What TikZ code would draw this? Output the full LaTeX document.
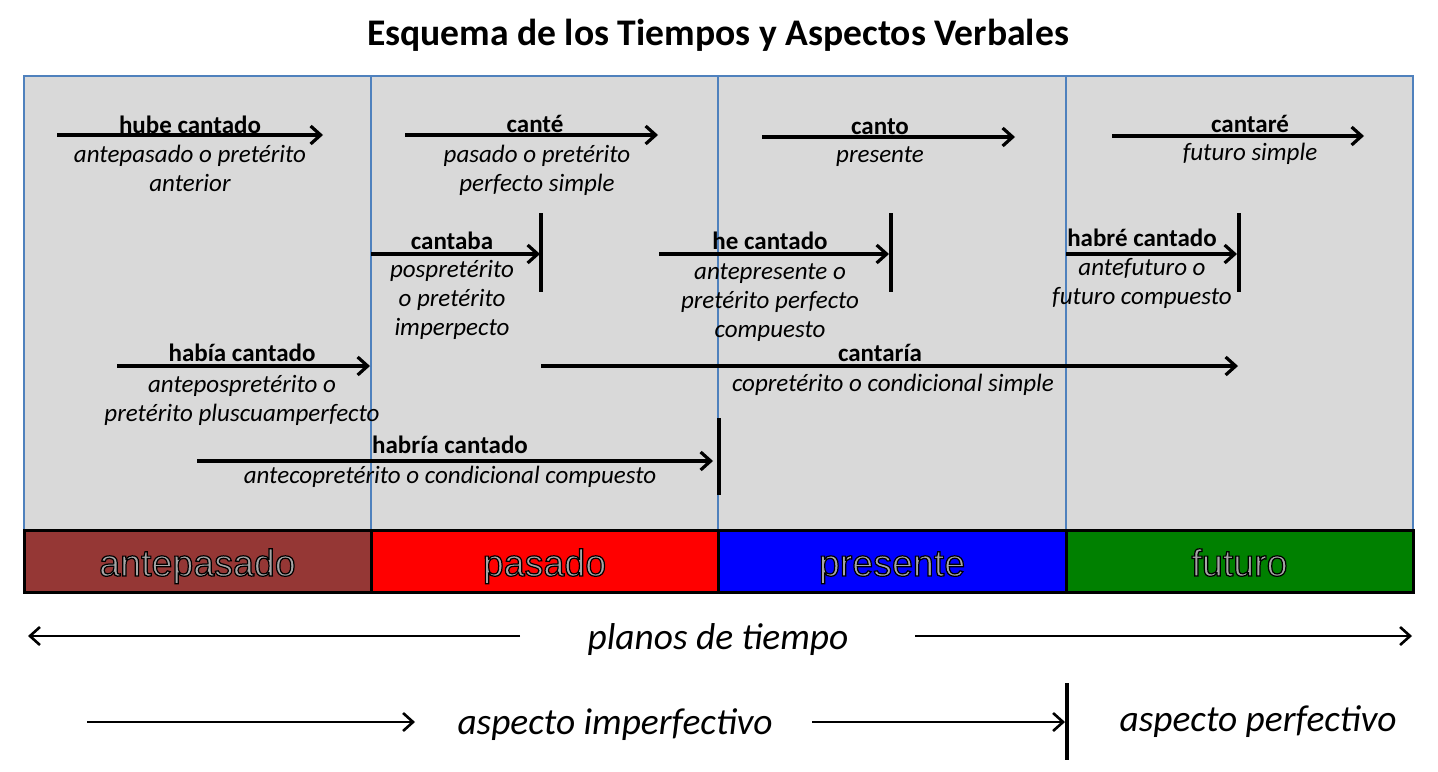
\documentclass[tikz,border=0pt]{standalone}
\usepackage{fontspec}
\setmainfont{Carlito}
\newfontfamily\barfont{Liberation Sans}
\usetikzlibrary{arrows.meta,positioning}
\definecolor{panelGray}{HTML}{D9D9D9}
\definecolor{panelLine}{HTML}{4F81BD}
\definecolor{antepasadoC}{HTML}{953735}
\definecolor{pasadoC}{HTML}{FF0000}
\definecolor{presenteC}{HTML}{0000FF}
\definecolor{futuroC}{HTML}{008000}
\newcommand{\outlined}[1]{\special{pdf:literal direct 2 Tr 0.6 w 0 G}#1\special{pdf:literal direct 0 Tr 0.4 w}}

\begin{document}
\begin{tikzpicture}[x=0.5pt, y=-0.5pt,
  tensearrow/.style={line width=1.6pt, -{Straight Barb[length=5pt,width=9pt]}},
  axisarrow/.style={line width=1.3pt, -{Straight Barb[length=5pt,width=9pt]}},
  limitbar/.style={line width=1.6pt},
  tensename/.style={anchor=base, inner sep=0pt, font=\fontsize{12.5}{14}\selectfont\bfseries},
  tensedesc/.style={anchor=north, inner sep=0pt, align=center, font=\fontsize{12.5}{14.5}\selectfont\itshape},
  planebox/.style={draw=black, line width=1.5pt},
  planelabel/.style={anchor=base, inner sep=0pt, text=black!35, font=\barfont\fontsize{18.8}{22}\selectfont},
  axislabel/.style={anchor=base, inner sep=0pt, font=\fontsize{18.7}{22}\selectfont\itshape}
]
  \useasboundingbox[fill=white] (0,0) rectangle (1438,771);

  % title
  \node[anchor=base, font=\fontsize{18.8}{22}\selectfont\bfseries] (title) at (718,45)
    {Esquema de los Tiempos y Aspectos Verbales};

  % panel
  \fill[panelGray] (24,76) rectangle (1413,530);
  \draw[panelLine, line width=0.6pt] (24,76) rectangle (1413,530);
  \foreach \x in {371,718,1066}
    \draw[panelLine, line width=0.6pt] (\x,76) -- (\x,530);

  % planes bar
  \draw[planebox, fill=antepasadoC] (24,530) rectangle (371,592);
  \draw[planebox, fill=pasadoC] (371,530) rectangle (718,592);
  \draw[planebox, fill=presenteC] (718,530) rectangle (1066,592);
  \draw[planebox, fill=futuroC] (1066,530) rectangle (1413,592);
  \node[planelabel] (antepasado) at (197.5,576) {\outlined{antepasado}};
  \node[planelabel] (pasado) at (544.5,576) {\outlined{pasado}};
  \node[planelabel] (presente) at (892,576) {\outlined{presente}};
  \node[planelabel] (futuro) at (1239.5,576) {\outlined{futuro}};

  % hube cantado
  \coordinate (hube-a) at (57,135);
  \coordinate (hube-b) at (323,135);
  \draw[tensearrow] (hube-a) -- (hube-b);
  \node[tensename] (hube) at (190,133) {hube cantado};
  \node[tensedesc] (hube-d) at (190,142) {\strut antepasado o pretérito\\anterior};

  % cante
  \coordinate (cante-a) at (405,135);
  \coordinate (cante-b) at (658,135);
  \draw[tensearrow] (cante-a) -- (cante-b);
  \node[tensename] (cante) at (535,132) {canté};
  \node[tensedesc] (cante-d) at (537,142) {\strut pasado o pretérito\\perfecto simple};

  % canto
  \coordinate (canto-a) at (762,137);
  \coordinate (canto-b) at (1015,137);
  \draw[tensearrow] (canto-a) -- (canto-b);
  \node[tensename] (canto) at (880,134) {canto};
  \node[tensedesc] (canto-d) at (880,142) {\strut presente};

  % cantare
  \coordinate (cantare-a) at (1112,136);
  \coordinate (cantare-b) at (1364,136);
  \draw[tensearrow] (cantare-a) -- (cantare-b);
  \node[tensename] (cantare) at (1250,132) {cantaré};
  \node[tensedesc] (cantare-d) at (1250,140) {\strut futuro simple};

  % cantaba
  \coordinate (cantaba-a) at (371,254);
  \coordinate (cantaba-b) at (540,254);
  \coordinate (cantaba-t) at (541,213);
  \coordinate (cantaba-u) at (541,292);
  \draw[tensearrow] (cantaba-a) -- (cantaba-b);
  \draw[limitbar] (cantaba-t) -- (cantaba-u);
  \node[tensename] (cantaba) at (452,249) {cantaba};
  \node[tensedesc] (cantaba-d) at (452,257) {\strut pospretérito\\o pretérito\\imperpecto};

  % he cantado
  \coordinate (he-a) at (659,254);
  \coordinate (he-b) at (889,254);
  \coordinate (he-t) at (891,213);
  \coordinate (he-u) at (891,292);
  \draw[tensearrow] (he-a) -- (he-b);
  \draw[limitbar] (he-t) -- (he-u);
  \node[tensename] (he) at (770,249) {he cantado};
  \node[tensedesc] (he-d) at (770,259) {\strut antepresente o\\pretérito perfecto\\compuesto};

  % habre cantado
  \coordinate (habre-a) at (1066,254);
  \coordinate (habre-b) at (1237,254);
  \coordinate (habre-t) at (1239,213);
  \coordinate (habre-u) at (1239,292);
  \draw[tensearrow] (habre-a) -- (habre-b);
  \draw[limitbar] (habre-t) -- (habre-u);
  \node[tensename] (habre) at (1142,246) {habré cantado};
  \node[tensedesc] (habre-d) at (1142,255) {\strut antefuturo o\\futuro compuesto};

  % habia cantado
  \coordinate (habia-a) at (117,366);
  \coordinate (habia-b) at (370,366);
  \draw[tensearrow] (habia-a) -- (habia-b);
  \node[tensename] (habia) at (242,361) {había cantado};
  \node[tensedesc] (habia-d) at (242,372) {\strut antepospretérito o\\pretérito pluscuamperfecto};

  % cantaria
  \coordinate (cantaria-a) at (541,366);
  \coordinate (cantaria-b) at (1238,366);
  \draw[tensearrow] (cantaria-a) -- (cantaria-b);
  \node[tensename] (cantaria) at (880,361) {cantaría};
  \node[tensedesc] (cantaria-d) at (893,371) {\strut copretérito o condicional simple};

  % habria cantado
  \coordinate (habria-a) at (197,461);
  \coordinate (habria-b) at (713,461);
  \coordinate (habria-t) at (719,418);
  \coordinate (habria-u) at (719,495);
  \draw[tensearrow] (habria-a) -- (habria-b);
  \draw[limitbar] (habria-t) -- (habria-u);
  \node[tensename] (habria) at (450,453) {habría cantado};
  \node[tensedesc] (habria-d) at (450,463) {\strut antecopretérito o condicional compuesto};

  % planos de tiempo
  \node[axislabel] (planos) at (718,649) {planos de tiempo};
  \coordinate (planos-la) at (520,636);
  \coordinate (planos-lb) at (28,636);
  \coordinate (planos-ra) at (915,636);
  \coordinate (planos-rb) at (1412,636);
  \draw[axisarrow] (planos-la) -- (planos-lb);
  \draw[axisarrow] (planos-ra) -- (planos-rb);

  % aspectos
  \node[axislabel] (imperf) at (615,734) {aspecto imperfectivo};
  \node[axislabel] (perf) at (1258,731) {aspecto perfectivo};
  \coordinate (imperf-a) at (87,722);
  \coordinate (imperf-b) at (415,722);
  \coordinate (imperf-c) at (812,722);
  \coordinate (imperf-d) at (1065,722);
  \coordinate (perf-t) at (1067,683);
  \coordinate (perf-u) at (1067,760);
  \draw[axisarrow] (imperf-a) -- (imperf-b);
  \draw[axisarrow] (imperf-c) -- (imperf-d);
  \draw[limitbar] (perf-t) -- (perf-u);
\end{tikzpicture}
\end{document}
